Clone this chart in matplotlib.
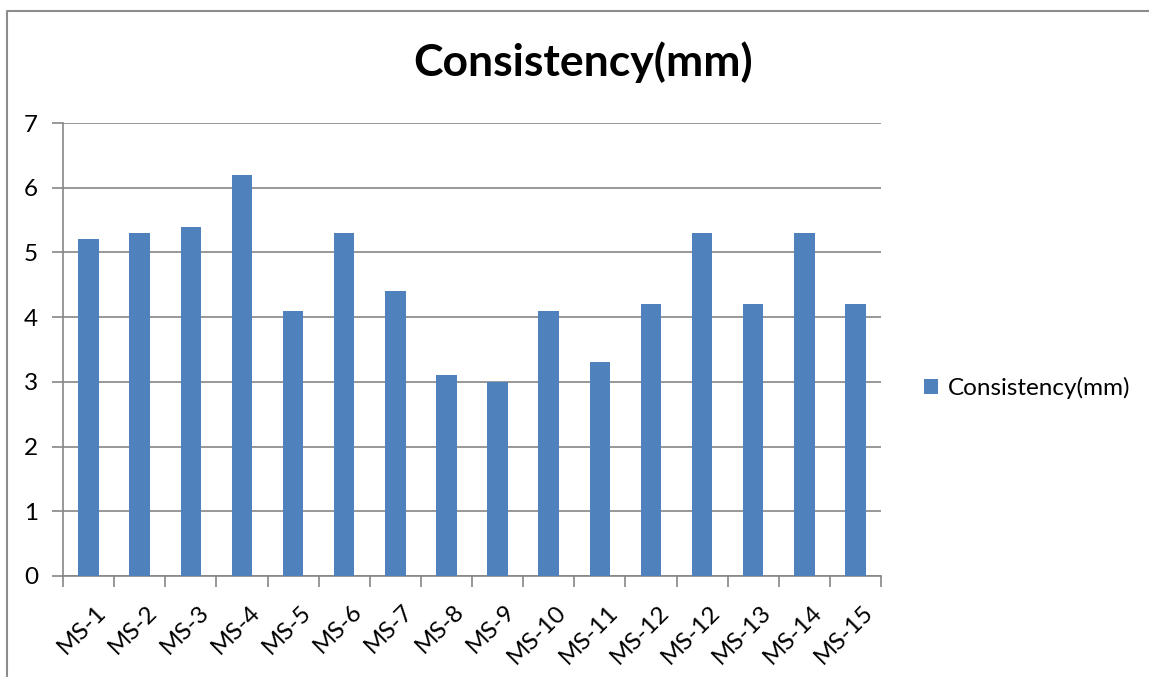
import matplotlib.pyplot as plt
import matplotlib.transforms as mtransforms
from matplotlib.lines import Line2D

plt.rcParams['font.family'] = ['Lato', 'DejaVu Sans']

samples = ['MS-1', 'MS-2', 'MS-3', 'MS-4', 'MS-5', 'MS-6', 'MS-7', 'MS-8',
           'MS-9', 'MS-10', 'MS-11', 'MS-12', 'MS-12', 'MS-13', 'MS-14', 'MS-15']
consistency = [5.2, 5.3, 5.4, 6.2, 4.1, 5.3, 4.4, 3.1,
               3.0, 4.1, 3.3, 4.2, 5.3, 4.2, 5.3, 4.2]

W, H = 1149, 677
fig = plt.figure(figsize=(W / 100, H / 100), dpi=100)
ax = fig.add_axes([63 / W, 1 - 576 / H, (881 - 63) / W, (576 - 123) / H])

grid_c = '#868686'
x = range(len(samples))
ax.bar(x, consistency, width=0.4, color='#4F81BD', zorder=3, label='Consistency(mm)')

ax.set_xlim(-0.5, len(samples) - 0.5)
ax.set_ylim(0, 7)
ax.set_yticks(range(0, 8))
ax.yaxis.grid(True, color=grid_c, lw=1.2, zorder=0)

# category boundaries get the tick marks, labels sit under the bars
ax.set_xticks([i - 0.5 for i in range(len(samples) + 1)])
ax.set_xticklabels([])
ax.set_xticks(list(x), minor=True)
ax.set_xticklabels(samples, minor=True, rotation=45, ha='right',
                   rotation_mode='anchor', fontsize=17.5)
ax.tick_params(axis='x', which='minor', length=0, pad=18)
ax.tick_params(axis='x', which='major', length=8, width=1.2, color=grid_c)
ax.tick_params(axis='y', length=8, width=1.2, color=grid_c, labelsize=17.5, pad=10)

# nudge the slanted labels a little to the right
shift = mtransforms.ScaledTranslation(7 / 100, 0, fig.dpi_scale_trans)
for lbl in ax.get_xticklabels(minor=True):
    lbl.set_transform(lbl.get_transform() + shift)

for side in ['top', 'right']:
    ax.spines[side].set_visible(False)
for side in ['left', 'bottom']:
    ax.spines[side].set_color(grid_c)
    ax.spines[side].set_linewidth(1.2)

fig.text(583 / W, 1 - 62 / H, 'Consistency(mm)', ha='center', va='center',
         fontsize=32, fontweight='bold')

ax.legend(loc='center left', bbox_to_anchor=(902 / W, 1 - 388 / H),
          bbox_transform=fig.transFigure, frameon=False, fontsize=17.5,
          handlelength=0.6, handleheight=0.6, handletextpad=0.4)

# chart border (left and top edges)
fig.add_artist(Line2D([7 / W, 7 / W, 1], [0, 1 - 11 / H, 1 - 11 / H],
                      transform=fig.transFigure, color='#8c8c8c', lw=1.5))

fig.savefig('out.png', dpi=100)
